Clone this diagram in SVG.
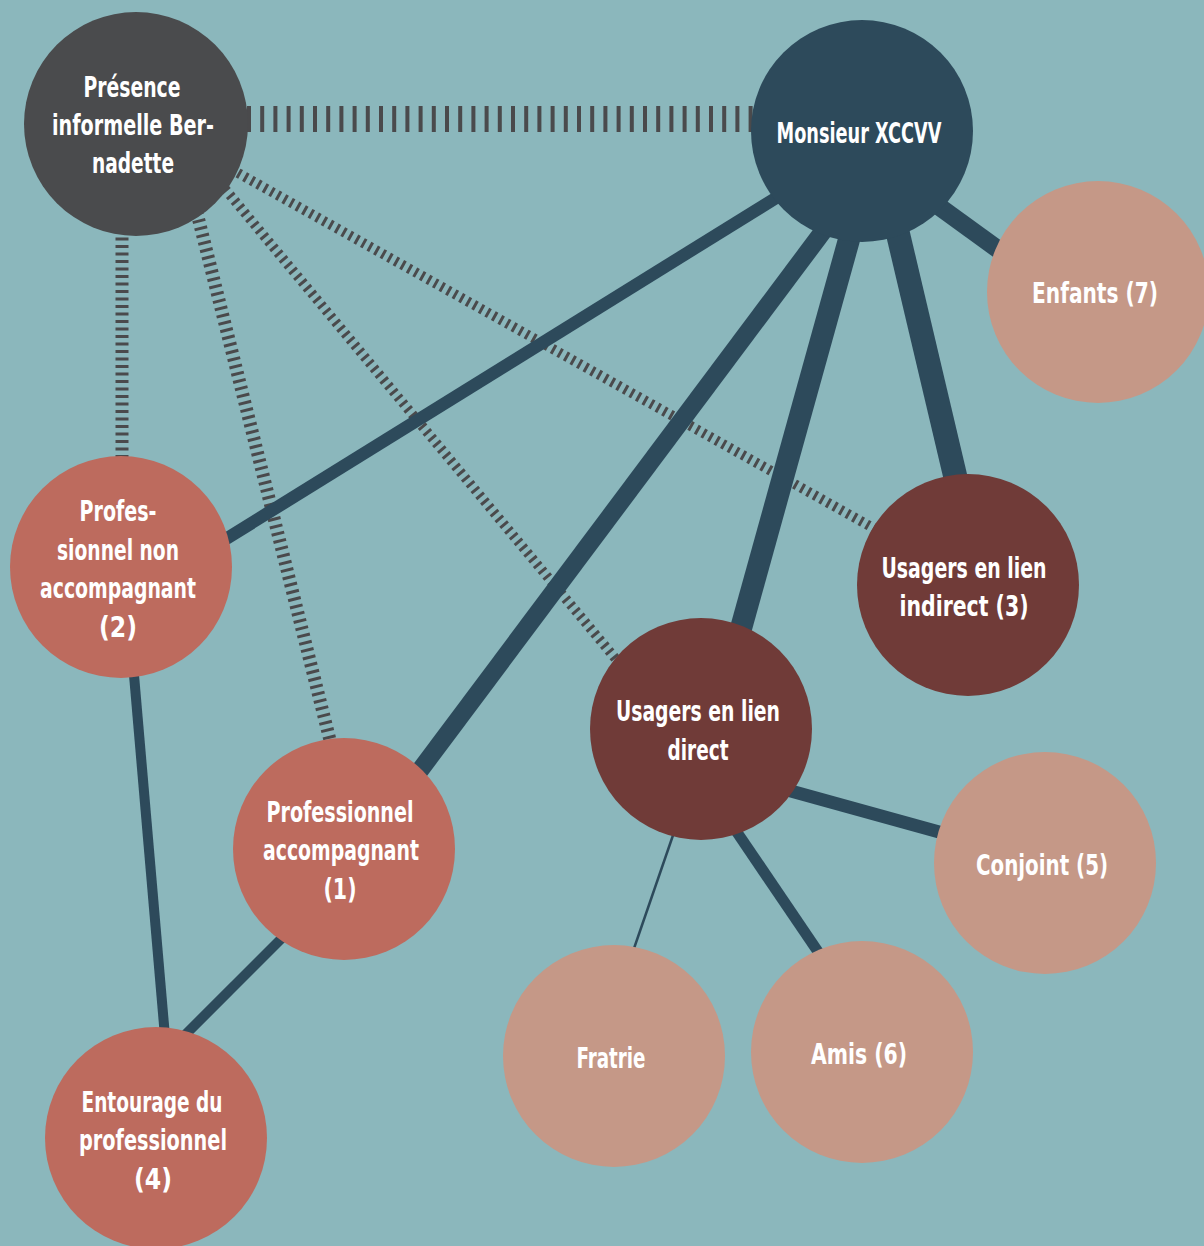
<svg xmlns="http://www.w3.org/2000/svg" width="1204" height="1246" viewBox="0 0 1204 1246">
<style>
.bg{fill:#8bb7bc}
.solid{stroke:#2d4a5b;fill:none}
.dash{stroke:#4a4a4c;fill:none;stroke-dasharray:3 4.5}
.dark{fill:#4a4b4d}
.main{fill:#2d4a5b}
.pro{fill:#bd6b5e}
.usr{fill:#703b38}
.lite{fill:#c59887}
text{font-family:"DejaVu Sans Condensed","DejaVu Sans",sans-serif;font-weight:bold;font-size:29px;fill:#ffffff;text-anchor:middle}
</style>
<rect class="bg" x="0" y="0" width="1204" height="1246"/>
<g id="connectors">
  <line class="dash" x1="247" y1="119" x2="755" y2="119" style="stroke-width:26;stroke-dasharray:4 9.2"/>
  <line class="dash" x1="122" y1="230" x2="122" y2="460" style="stroke-width:13"/>
  <line class="dash" x1="195" y1="205" x2="335" y2="760" style="stroke-width:13"/>
  <line class="dash" x1="225" y1="189" x2="620" y2="664" style="stroke-width:10"/>
  <line class="dash" x1="238" y1="173" x2="875" y2="529" style="stroke-width:10"/>
  <line class="solid" x1="200" y1="555" x2="800" y2="183" style="stroke-width:12.5"/>
  <line class="solid" x1="845" y1="202" x2="400" y2="797" style="stroke-width:18"/>
  <line class="solid" x1="860" y1="200" x2="735" y2="650" style="stroke-width:22"/>
  <line class="solid" x1="890" y1="200" x2="962" y2="505" style="stroke-width:24"/>
  <line class="solid" x1="930" y1="200" x2="1010" y2="258" style="stroke-width:18"/>
  <line class="solid" x1="780" y1="788" x2="950" y2="835" style="stroke-width:13"/>
  <line class="solid" x1="730" y1="822" x2="825" y2="962" style="stroke-width:11"/>
  <line class="solid" x1="680" y1="815" x2="630" y2="960" style="stroke-width:2.5"/>
  <line class="solid" x1="131" y1="640" x2="167" y2="1060" style="stroke-width:10"/>
  <line class="solid" x1="300" y1="920" x2="170" y2="1050" style="stroke-width:10"/>
</g>
<g id="node-bernadette">
  <circle class="dark" cx="136" cy="124" r="112"/>
  <text x="132" y="97" textLength="97" lengthAdjust="spacingAndGlyphs">Présence</text>
  <text x="133" y="135" textLength="162" lengthAdjust="spacingAndGlyphs">informelle Ber-</text>
  <text x="133" y="173" textLength="82" lengthAdjust="spacingAndGlyphs">nadette</text>
</g>
<g id="node-monsieur">
  <circle class="main" cx="862" cy="131" r="111"/>
  <text x="859" y="143" textLength="165" lengthAdjust="spacingAndGlyphs">Monsieur XCCVV</text>
</g>
<g id="node-enfants">
  <circle class="lite" cx="1098" cy="292" r="111"/>
  <text x="1095" y="303" textLength="126" lengthAdjust="spacingAndGlyphs">Enfants (7)</text>
</g>
<g id="node-pro-non-accompagnant">
  <circle class="pro" cx="121" cy="567" r="111"/>
  <text x="118" y="521" textLength="77" lengthAdjust="spacingAndGlyphs">Profes-</text>
  <text x="118" y="560" textLength="122" lengthAdjust="spacingAndGlyphs">sionnel non</text>
  <text x="118" y="598" textLength="156" lengthAdjust="spacingAndGlyphs">accompagnant</text>
  <text x="118" y="637" textLength="38" lengthAdjust="spacingAndGlyphs">(2)</text>
</g>
<g id="node-pro-accompagnant">
  <circle class="pro" cx="344" cy="849" r="111"/>
  <text x="340" y="822" textLength="147" lengthAdjust="spacingAndGlyphs">Professionnel</text>
  <text x="341" y="860" textLength="156" lengthAdjust="spacingAndGlyphs">accompagnant</text>
  <text x="340" y="899" textLength="33" lengthAdjust="spacingAndGlyphs">(1)</text>
</g>
<g id="node-entourage">
  <circle class="pro" cx="156" cy="1138" r="111"/>
  <text x="152" y="1112" textLength="141" lengthAdjust="spacingAndGlyphs">Entourage du</text>
  <text x="153" y="1150" textLength="148" lengthAdjust="spacingAndGlyphs">professionnel</text>
  <text x="153" y="1189" textLength="38" lengthAdjust="spacingAndGlyphs">(4)</text>
</g>
<g id="node-usagers-direct">
  <circle class="usr" cx="701" cy="729" r="111"/>
  <text x="698" y="721" textLength="164" lengthAdjust="spacingAndGlyphs">Usagers en lien</text>
  <text x="698" y="760" textLength="61" lengthAdjust="spacingAndGlyphs">direct</text>
</g>
<g id="node-usagers-indirect">
  <circle class="usr" cx="968" cy="585" r="111"/>
  <text x="964" y="578" textLength="165" lengthAdjust="spacingAndGlyphs">Usagers en lien</text>
  <text x="964" y="616" textLength="129" lengthAdjust="spacingAndGlyphs">indirect (3)</text>
</g>
<g id="node-conjoint">
  <circle class="lite" cx="1045" cy="863" r="111"/>
  <text x="1042" y="875" textLength="132" lengthAdjust="spacingAndGlyphs">Conjoint (5)</text>
</g>
<g id="node-fratrie">
  <circle class="lite" cx="614" cy="1056" r="111"/>
  <text x="611" y="1068" textLength="69" lengthAdjust="spacingAndGlyphs">Fratrie</text>
</g>
<g id="node-amis">
  <circle class="lite" cx="862" cy="1052" r="111"/>
  <text x="859" y="1064" textLength="96" lengthAdjust="spacingAndGlyphs">Amis (6)</text>
</g>
</svg>
